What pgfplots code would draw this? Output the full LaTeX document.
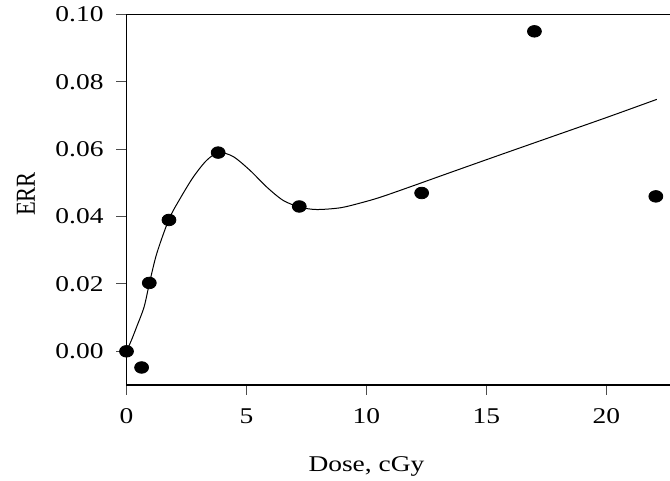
\documentclass[border=0pt]{standalone}
\usepackage{pgfplots}
\pgfplotsset{compat=1.18}
\usepackage{fontspec}
\setmainfont{Liberation Serif}

\newcommand{\lblfont}{\fontsize{11.25}{13.5}\selectfont}

\begin{document}
\begin{tikzpicture}
\begin{axis}[
    width=271.75pt, height=185.25pt, scale only axis,
    xmin=0, xmax=22.65, ymin=-0.01, ymax=0.10,
    axis lines=left, axis line style={-, line width=0.65pt},
    clip=false,
    xtick={0,5,10,15,20},
    ytick={0,0.02,0.04,0.06,0.08,0.10},
    tick align=outside, major tick length=5pt,
    tick style={line width=0.5pt, black!70},
    /pgf/number format/assume math mode=true,
    yticklabel style={/pgf/number format/fixed, /pgf/number format/fixed zerofill, /pgf/number format/precision=2},
    x tick label style={font=\lblfont, anchor=base, yshift=-14.2pt, xscale=1.22},
    y tick label style={font=\lblfont, anchor=east, inner sep=0pt, xshift=-6.25pt, xscale=1.22},
]
% fitted curve
\addplot[black, line width=0.5pt, smooth, tension=0.5] coordinates {
    (0,0) (0.2,0.0032) (0.42,0.0072) (0.73,0.0131) (0.95,0.0200) (1.26,0.0290)
    (1.77,0.0392) (2.23,0.0453) (2.78,0.0517) (3.34,0.0567) (3.85,0.0590)
    (4.45,0.0578) (5.15,0.0537) (5.84,0.0488) (6.53,0.0448) (7.23,0.0428)
    (7.92,0.0421) (8.9,0.0426) (9.73,0.0440) (10.56,0.0457) (11.81,0.0488)
    (13.5,0.0531) (15.56,0.0583) (18,0.0644) (20,0.0694) (22.1,0.0748)
};
% observed points
\addplot[only marks, mark=*, mark size=2.9pt, mark options={fill=black, draw=black, xscale=1.2}] coordinates {
    (0,0) (0.63,-0.0048) (0.95,0.0203) (1.77,0.039) (3.82,0.059)
    (7.2,0.043) (12.3,0.047) (17.0,0.095) (22.06,0.046)
};
\draw[line width=0.65pt] (rel axis cs:0,1) -- (rel axis cs:1,1);
% axis titles
\node[anchor=base, font=\lblfont, xscale=1.22] at ([yshift=-43.3pt]axis cs:10,-0.01) {Dose, cGy};
\node[anchor=base, font=\lblfont, rotate=90, yscale=1.22] at ([xshift=-45.75pt]rel axis cs:0,0.5155) {ERR};
\coordinate (bl) at (rel axis cs:0,0);
\coordinate (tr) at (rel axis cs:1,1);
\end{axis}
\pgfresetboundingbox
\path[use as bounding box] (bl) ++(-63.25pt,-48pt) rectangle ([yshift=7.25pt]tr);
\end{tikzpicture}
\end{document}
